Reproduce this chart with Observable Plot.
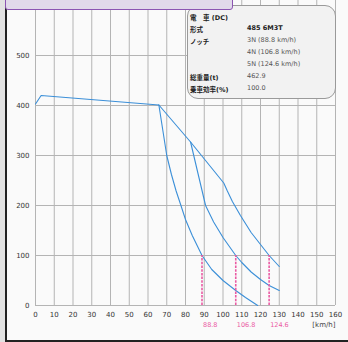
<!DOCTYPE html>
<html>
<head>
<meta charset="utf-8">
<script src="https://cdn.jsdelivr.net/npm/d3@7"></script>
<script src="https://cdn.jsdelivr.net/npm/@observablehq/plot@0.6"></script>
<style>
  html, body { margin: 0; padding: 0; background: #fafafa; }
  #wrap { position: relative; width: 348px; height: 342px; overflow: hidden; background: #fafafa;
          font-family: "DejaVu Sans", "Noto Sans CJK JP", sans-serif; }
  #wrap svg { position: absolute; left: 0; top: 0; }
  .strip { position: absolute; left: 0; top: 0; width: 5px; height: 342px; background: #e2e2e2; }
  .vline { position: absolute; left: 5px; top: 0; width: 2px; height: 342px; background: #222; }
  .hline { position: absolute; left: 5px; top: 340px; width: 343px; height: 2px; background: #222; }
  .title { position: absolute; left: 5px; top: -3px; width: 226px; height: 11px; background: #e1d9ea;
           border: 1.5px solid #8c55b2; border-radius: 0 0 3px 3px; z-index: 3; }
  .legend { position: absolute; left: 187px; top: 5px; width: 147px; height: 92px; background: #f2f2f2;
            border: 1px solid #9a9a9a; border-radius: 11px; z-index: 2; font-size: 6.5px; color: #555; }
  .legend .lab { position: absolute; left: 2px; font-weight: bold; color: #222; white-space: nowrap; }
  .legend .val { position: absolute; left: 59px; white-space: nowrap; }
  .legend .bold { font-weight: bold; color: #222; }
</style>
</head>
<body>
<div id="wrap">
  <div class="strip"></div>
</div>
<script>
// ---- data ----
const xTicks = [0, 10, 20, 30, 40, 50, 60, 70, 80, 90, 100, 110, 120, 130, 140, 150, 160];
const yTicks = [0, 100, 200, 300, 400, 500];

const baseSpeed = [0, 3, 65.8];
const baseForce = [403, 420, 401];

const n3Speed = [65.8, 70, 72.5, 75, 77.3, 80, 83.6, 88.8, 94, 100, 106.8, 112, 118.5];
const n3Force = [401, 300, 262, 229, 203, 172, 140, 100, 72, 50, 30, 16, 0];

const n4Speed = [82.7, 86.6, 90.7, 95, 100, 106.8, 110, 115, 120, 124.6, 130];
const n4Force = [327, 265, 200, 167, 136, 100, 86, 67, 52, 40, 30];

const n5Speed = [65.8, 82.7, 100.4, 102.2, 105, 109.3, 115, 120, 124.6, 130];
const n5Force = [401, 327, 245, 230, 208, 180, 146, 122, 100, 78];

const notchSpeeds = [88.8, 106.8, 124.6];
const notchForce = [100, 100, 100];
const notchLabels = ["88.8", "106.8", "124.6"];
const unitLabel = "[km/h]";

const legendLabels = ["電　車 (DC)", "形式", "ノッチ", "", "", "総重量(t)", "乗車効率(%)"];
const legendValues = ["", "485 6M3T", "3N (88.8 km/h)", "4N (106.8 km/h)", "5N (124.6 km/h)", "462.9", "100.0"];

// ---- build ----
const toPts = (s, f) => s.map((x, i) => ({x, y: f[i]}));
const curves = [toPts(baseSpeed, baseForce), toPts(n3Speed, n3Force), toPts(n4Speed, n4Force), toPts(n5Speed, n5Force)];
const notches = notchSpeeds.map((x, i) => ({x, y: notchForce[i], label: notchLabels[i]}));

const blue = "#3b8fd8";
const pink = "#ea5aa3";

const chart = Plot.plot({
  width: 348,
  height: 342,
  marginLeft: 35,
  marginRight: 13,
  marginTop: 0,
  marginBottom: 37,
  x: {domain: [0, 160]},
  y: {domain: [0, 610]},
  style: {background: "transparent", fontFamily: "DejaVu Sans", fontSize: "7px", color: "#333", overflow: "visible"},
  marks: [
    Plot.ruleX(xTicks, {y1: 0, y2: 610, stroke: "#b4b4b4", strokeWidth: 1, strokeOpacity: 1}),
    Plot.ruleY(yTicks, {x1: 0, x2: 160, stroke: "#b4b4b4", strokeWidth: 1, strokeOpacity: 1}),
    ...curves.map(c => Plot.line(c, {x: "x", y: "y", stroke: blue, strokeWidth: 1.1})),
    Plot.ruleX(notches, {x: "x", y1: 0, y2: "y", stroke: pink, strokeWidth: 1.6, strokeDasharray: "2.5,1.2"}),
    Plot.text(notches, {x: "x", text: "label", frameAnchor: "bottom", dy: 21, dx: 1, textAnchor: "start", fill: pink, fontSize: 6.5}),
    Plot.text([unitLabel], {x: 160, text: d => d, frameAnchor: "bottom", dy: 21, textAnchor: "end", fill: "#444", fontSize: 7}),
    Plot.axisX(xTicks, {tickSize: 0, tickPadding: 6.5, label: null, fill: "#333"}),
    Plot.axisY(yTicks, {tickSize: 0, tickPadding: 6, label: null, fill: "#333"})
  ]
});

const wrap = document.getElementById("wrap");
wrap.appendChild(chart);

["vline", "hline", "title"].forEach(c => {
  const d = document.createElement("div");
  d.className = c;
  wrap.appendChild(d);
});

const leg = document.createElement("div");
leg.className = "legend";
legendLabels.forEach((lab, i) => {
  const top = 6 + i * 12;
  if (lab) {
    const l = document.createElement("div");
    l.className = "lab"; l.style.top = top + "px"; l.textContent = lab;
    leg.appendChild(l);
  }
  if (legendValues[i]) {
    const v = document.createElement("div");
    v.className = "val" + (i === 1 ? " bold" : ""); v.style.top = top + "px"; v.textContent = legendValues[i];
    leg.appendChild(v);
  }
});
wrap.appendChild(leg);
</script>
</body>
</html>
